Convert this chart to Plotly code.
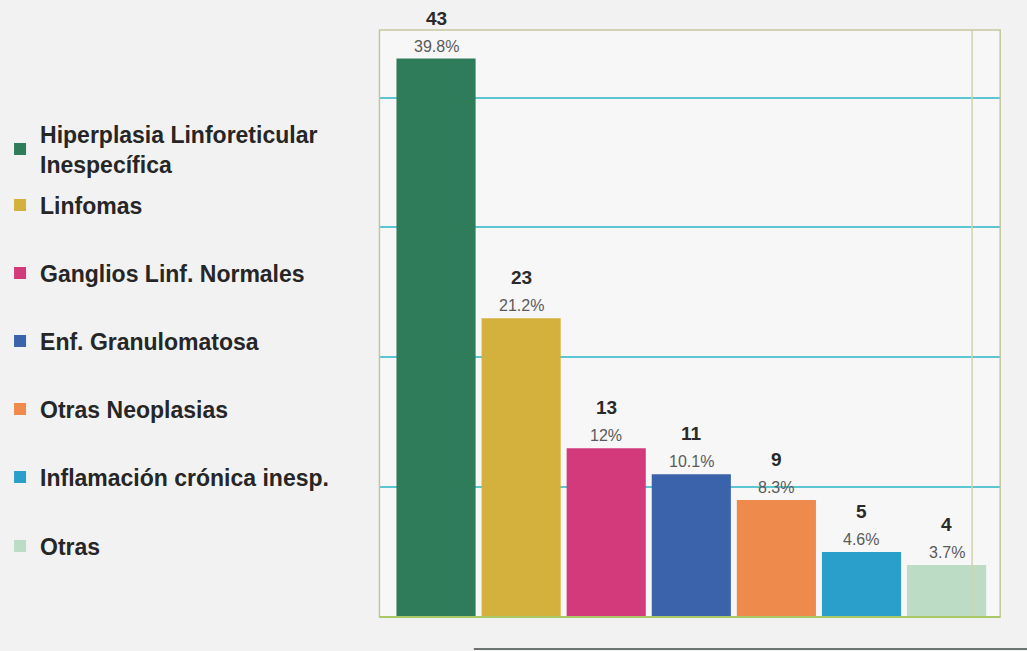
import plotly.graph_objects as go

categorias = [
    "Hiperplasia Linforeticular<br>Inespecífica",
    "Linfomas",
    "Ganglios Linf. Normales",
    "Enf. Granulomatosa",
    "Otras Neoplasias",
    "Inflamación crónica inesp.",
    "Otras",
]
casos = [43, 23, 13, 11, 9, 5, 4]
porcentajes = ["39.8%", "21.2%", "12%", "10.1%", "8.3%", "4.6%", "3.7%"]
colores = ["#2f7c5b", "#d4b03c", "#d23a7c", "#3b63ab", "#ee8a4c", "#2b9fcb", "#bddcc5"]

# vertical centre (px from top) of each legend entry
legend_px = [149, 205, 273, 341, 409, 477, 546]

W, H = 1027, 651
TOP, BOTTOM = 30, 617


def paper_y(px):
    return (BOTTOM - px) / (BOTTOM - TOP)


fig = go.Figure()
legend_layout = {}
for i, (cat, n, col) in enumerate(zip(categorias, casos, colores)):
    key = "legend" if i == 0 else f"legend{i + 1}"
    fig.add_trace(go.Bar(
        x=[i], y=[n], name=cat, marker=dict(color=col, line=dict(width=0)),
        width=0.93, legend=key, hoverinfo="skip",
    ))
    legend_layout[key] = dict(
        x=-7 / W, xanchor="left", y=paper_y(legend_px[i]), yanchor="middle",
        font=dict(family="Liberation Sans, Arial", size=23, color="#262626", weight="bold"),
        itemwidth=30, bgcolor="rgba(0,0,0,0)",
    )
    fig.add_annotation(x=i, y=n, text=porcentajes[i], showarrow=False,
                       yanchor="bottom", yshift=2,
                       font=dict(family="Liberation Sans, Arial", size=16, color="#5a5a5a"))
    fig.add_annotation(x=i, y=n, text=f"<b>{n}</b>", showarrow=False,
                       yanchor="bottom", yshift=28,
                       font=dict(family="Liberation Sans, Arial", size=19, color="#2a2a2a"))

# back wall edge, frame and floor
fig.add_shape(type="line", xref="x", yref="paper", x0=6.30, x1=6.30, y0=0, y1=1,
              line=dict(color="#d2d2ae", width=1.5))
fig.add_shape(type="rect", xref="paper", yref="paper",
              x0=375 / W, x1=1000 / W, y0=0, y1=1,
              line=dict(color="#c6c69e", width=1.5))
fig.add_shape(type="line", xref="paper", yref="paper",
              x0=375 / W, x1=1000 / W, y0=0, y1=0,
              line=dict(color="#a9c865", width=2))
fig.add_shape(type="line", xref="paper", yref="paper",
              x0=470 / W, x1=1, y0=paper_y(649), y1=paper_y(649),
              line=dict(color="#6e7472", width=2))

fig.update_layout(
    width=W, height=H,
    margin=dict(l=0, r=0, t=TOP, b=H - BOTTOM),
    paper_bgcolor="#f2f2f2",
    plot_bgcolor="#f7f7f7",
    showlegend=True,
    xaxis=dict(domain=[375 / W, 1000 / W], range=[-0.665, 6.63],
               showticklabels=False, showgrid=False, zeroline=False, ticks=""),
    yaxis=dict(range=[0, 45.2], showticklabels=False, showgrid=True,
               gridcolor="#5cc6d2", gridwidth=1.5, dtick=10, zeroline=False, ticks=""),
    **legend_layout,
)

fig.write_html("out.html")
